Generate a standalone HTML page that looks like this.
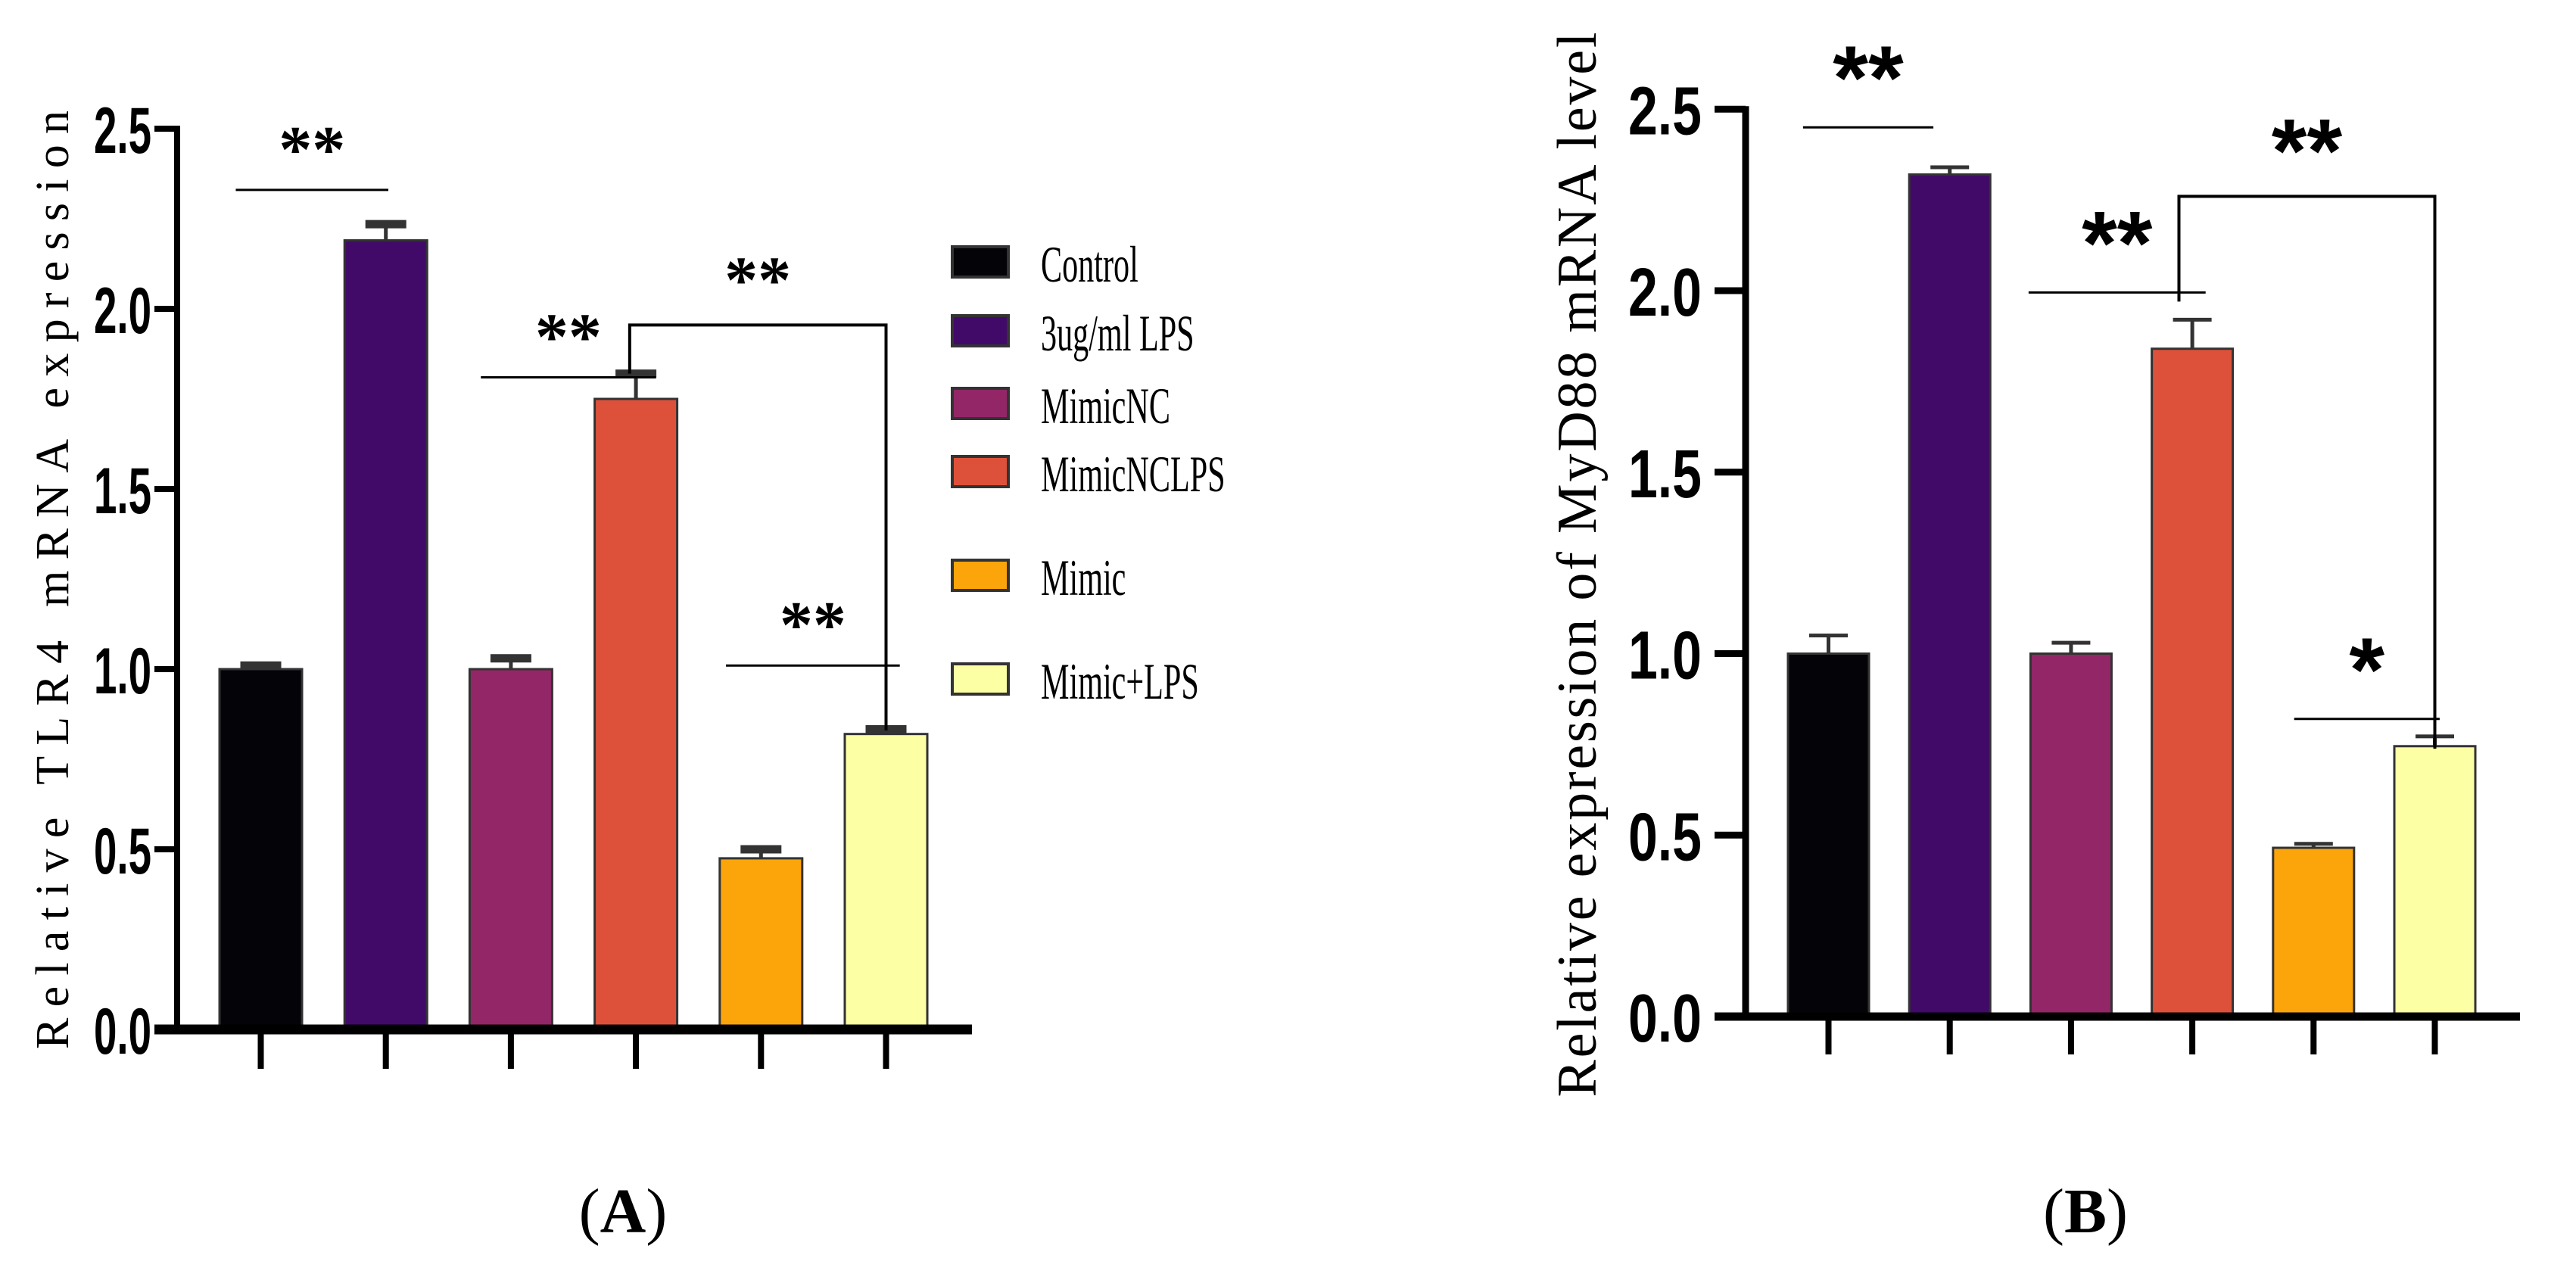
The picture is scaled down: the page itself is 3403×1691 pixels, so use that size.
<!DOCTYPE html>
<html><head><meta charset="utf-8"><style>
html,body{margin:0;padding:0;background:#fff;}
svg{display:block;}
</style></head><body>
<svg id="fig" width="3403" height="1691" viewBox="0 0 3403 1691" xmlns="http://www.w3.org/2000/svg">
<rect x="0" y="0" width="3403" height="1691" fill="#fff"/>
<g id="chartA"></g>
<g id="chartB"></g>
<g id="legend"></g>
<text x="823" y="1628" font-family="Liberation Serif, serif" font-size="84" text-anchor="middle">(<tspan font-weight="bold">A</tspan>)</text>
<text x="2755" y="1628" font-family="Liberation Serif, serif" font-size="84" text-anchor="middle">(<tspan font-weight="bold">B</tspan>)</text>
</svg>
<script>
const categories = ["Control","3ug/ml LPS","MimicNC","MimicNCLPS","Mimic","Mimic+LPS"];
const colors = ["#030308","#420a68","#932667","#dd513a","#fca50a","#fcffa4"];
const valuesA = [1.0, 2.19, 1.0, 1.75, 0.475, 0.82];
const errorsA = [0.01, 0.045, 0.03, 0.07, 0.025, 0.013];
const valuesB = [1.0, 2.32, 1.0, 1.84, 0.465, 0.745];
const errorsB = [0.05, 0.02, 0.03, 0.08, 0.011, 0.027];
const ticks = [0, 0.5, 1.0, 1.5, 2.0, 2.5];
const tickLabels = ["0.0","0.5","1.0","1.5","2.0","2.5"];
// significance lines: [from category position, to category position, y value, label]
const sigA = [[-0.20,1.02,2.33,"**"],[1.76,3.16,1.81,"**"],[3.72,5.11,1.01,"**"]];
// bracket: [from category, to category, top y, left end y, right end y, label]
const bracketA = [2.95,5,1.955,1.82,0.83,"**"];
const sigB = [[-0.21,0.865,2.45,"**"],[1.65,3.11,1.995,"**"],[3.84,5.04,0.82,"*"]];
const bracketB = [2.89,5,2.26,1.97,0.738,"**"];

const NS="http://www.w3.org/2000/svg";
function mk(parent, tag, attrs){const e=document.createElementNS(NS,tag);for(const k in attrs)e.setAttribute(k,attrs[k]);parent.appendChild(e);return e;}

function drawChart(g, cfg){
  const y = v => cfg.y0 - v*cfg.unit;
  const xc = i => cfg.x0c + i*cfg.step;
  cfg.values.forEach((v,i)=>{
    const r=mk(g,'rect',{x:xc(i)-cfg.bw/2,y:y(v),width:cfg.bw,height:cfg.y0-y(v),fill:colors[i],stroke:'#333',"stroke-width":3});
    
    
    const top=y(v+cfg.errors[i]);
    const l=mk(g,'line',{x1:xc(i),x2:xc(i),y1:y(v),y2:top,stroke:'#333',"stroke-width":5});
    
    
    const c=mk(g,'rect',{x:xc(i)-cfg.capw/2,y:top-cfg.caph/2,width:cfg.capw,height:cfg.caph,fill:'#333'});
    
    
  });
  const ya=mk(g,'rect',{x:cfg.axX-cfg.yaw/2,y:y(2.5)-4,width:cfg.yaw,height:cfg.y0-y(2.5)+4+cfg.xaw/2,fill:'#000'});
  
  
  const xa=mk(g,'rect',{x:cfg.xaStart,y:cfg.y0-cfg.xaw/2,width:cfg.xaEnd-cfg.xaStart,height:cfg.xaw,fill:'#000'});
  
  
  ticks.forEach((t,i)=>{
    if(t>0){const tk=mk(g,'rect',{x:cfg.xaStart,y:y(t)-cfg.yaw/2,width:cfg.axX-cfg.xaStart,height:cfg.yaw,fill:'#000'});
    
    }
    const tx=mk(g,'text',{x:cfg.lblRight,y:y(t)+cfg.lblOff,"font-family":"Liberation Sans, sans-serif","font-weight":"bold","font-size":cfg.lblSize,"text-anchor":"end",textLength:cfg.lblLen,lengthAdjust:"spacingAndGlyphs"});
    tx.textContent=tickLabels[i];
    
    
  });
  cfg.values.forEach((v,i)=>{
    const tk=mk(g,'rect',{x:xc(i)-4,y:cfg.y0,width:8,height:cfg.xtick,fill:'#000'});
    
    
  });
  cfg.sig.forEach(s=>{
    const x1=xc(s[0]), x2=xc(s[1]);
    const l=mk(g,'line',{x1:x1,x2:x2,y1:y(s[2]),y2:y(s[2]),stroke:'#000',"stroke-width":cfg.sigW});
    
    
    const t=mk(g,'text',{x:(x1+x2)/2,y:y(s[2])-cfg.starGap,"font-family":cfg.starFont,"font-weight":"bold","font-size":cfg.starSize,"text-anchor":"middle"});
    t.textContent=s[3];
    
    
  });
  const b=cfg.bracket;
  const bx1=xc(b[0]), bx2=xc(b[1]);
  const p=mk(g,'path',{d:`M${bx1},${y(b[3])} V${y(b[2])} H${bx2} V${y(b[4])}`,fill:'none',stroke:'#000',"stroke-width":cfg.bracketW});
  
  
  const bt=mk(g,'text',{x:(bx1+bx2)/2,y:y(b[2])-cfg.bracketStarGap,"font-family":cfg.starFont,"font-weight":"bold","font-size":cfg.starSize,"text-anchor":"middle"});
  bt.textContent=b[5];
  
  
  const ti=mk(g,'text',{x:0,y:0,transform:`translate(${cfg.titleX},${cfg.titleMid}) rotate(-90)`,"font-family":"Liberation Serif, serif","font-size":cfg.titleSize,"text-anchor":"middle",textLength:cfg.titleLen,lengthAdjust:"spacing"});
  ti.textContent=cfg.title;
  
  
}

drawChart(document.getElementById('chartA'),{
  values:valuesA, errors:errorsA, sig:sigA, bracket:bracketA,
  y0:1360, unit:476, x0c:344.5, step:165.2, bw:109, capw:54, caph:11,
  axX:234, yaw:8, xaw:13, xaStart:204, xaEnd:1284, xtick:52,
  lblRight:200, lblOff:32, lblSize:86, lblLen:76,
  sigW:3, starFont:"Liberation Serif, serif", starSize:88, starGap:24,
  bracketW:4, bracketStarGap:30,
  titleX:90, titleMid:766, titleSize:62, titleLen:1240, title:"Relative TLR4  mRNA expression"
});
drawChart(document.getElementById('chartB'),{
  values:valuesB, errors:errorsB, sig:sigB, bracket:bracketB,
  y0:1343, unit:479.5, x0c:2415.5, step:160.2, bw:107, capw:51, caph:5,
  axX:2306, yaw:9, xaw:11, xaStart:2265, xaEnd:3329, xtick:50,
  lblRight:2248, lblOff:33, lblSize:90, lblLen:97,
  sigW:3, starFont:"Liberation Sans, sans-serif", starSize:120, starGap:24,
  bracketW:4, bracketStarGap:19,
  titleX:2108, titleMid:746, titleSize:74, titleLen:1407, title:"Relative expression of MyD88 mRNA level"
});

const legendY = [346, 437, 533, 623, 760, 897];
const lg=document.getElementById('legend');
categories.forEach((c,i)=>{
  const r=mk(lg,'rect',{x:1258,y:legendY[i]-20,width:74,height:40,fill:colors[i],stroke:'#333',"stroke-width":4});
  
  
  const t=mk(lg,'text',{x:0,y:0,transform:`translate(1375,${legendY[i]+26}) scale(0.62,1)`,"font-family":"Liberation Serif, serif","font-size":68});
  t.textContent=c;
  
  
});
</script>
</body></html>
